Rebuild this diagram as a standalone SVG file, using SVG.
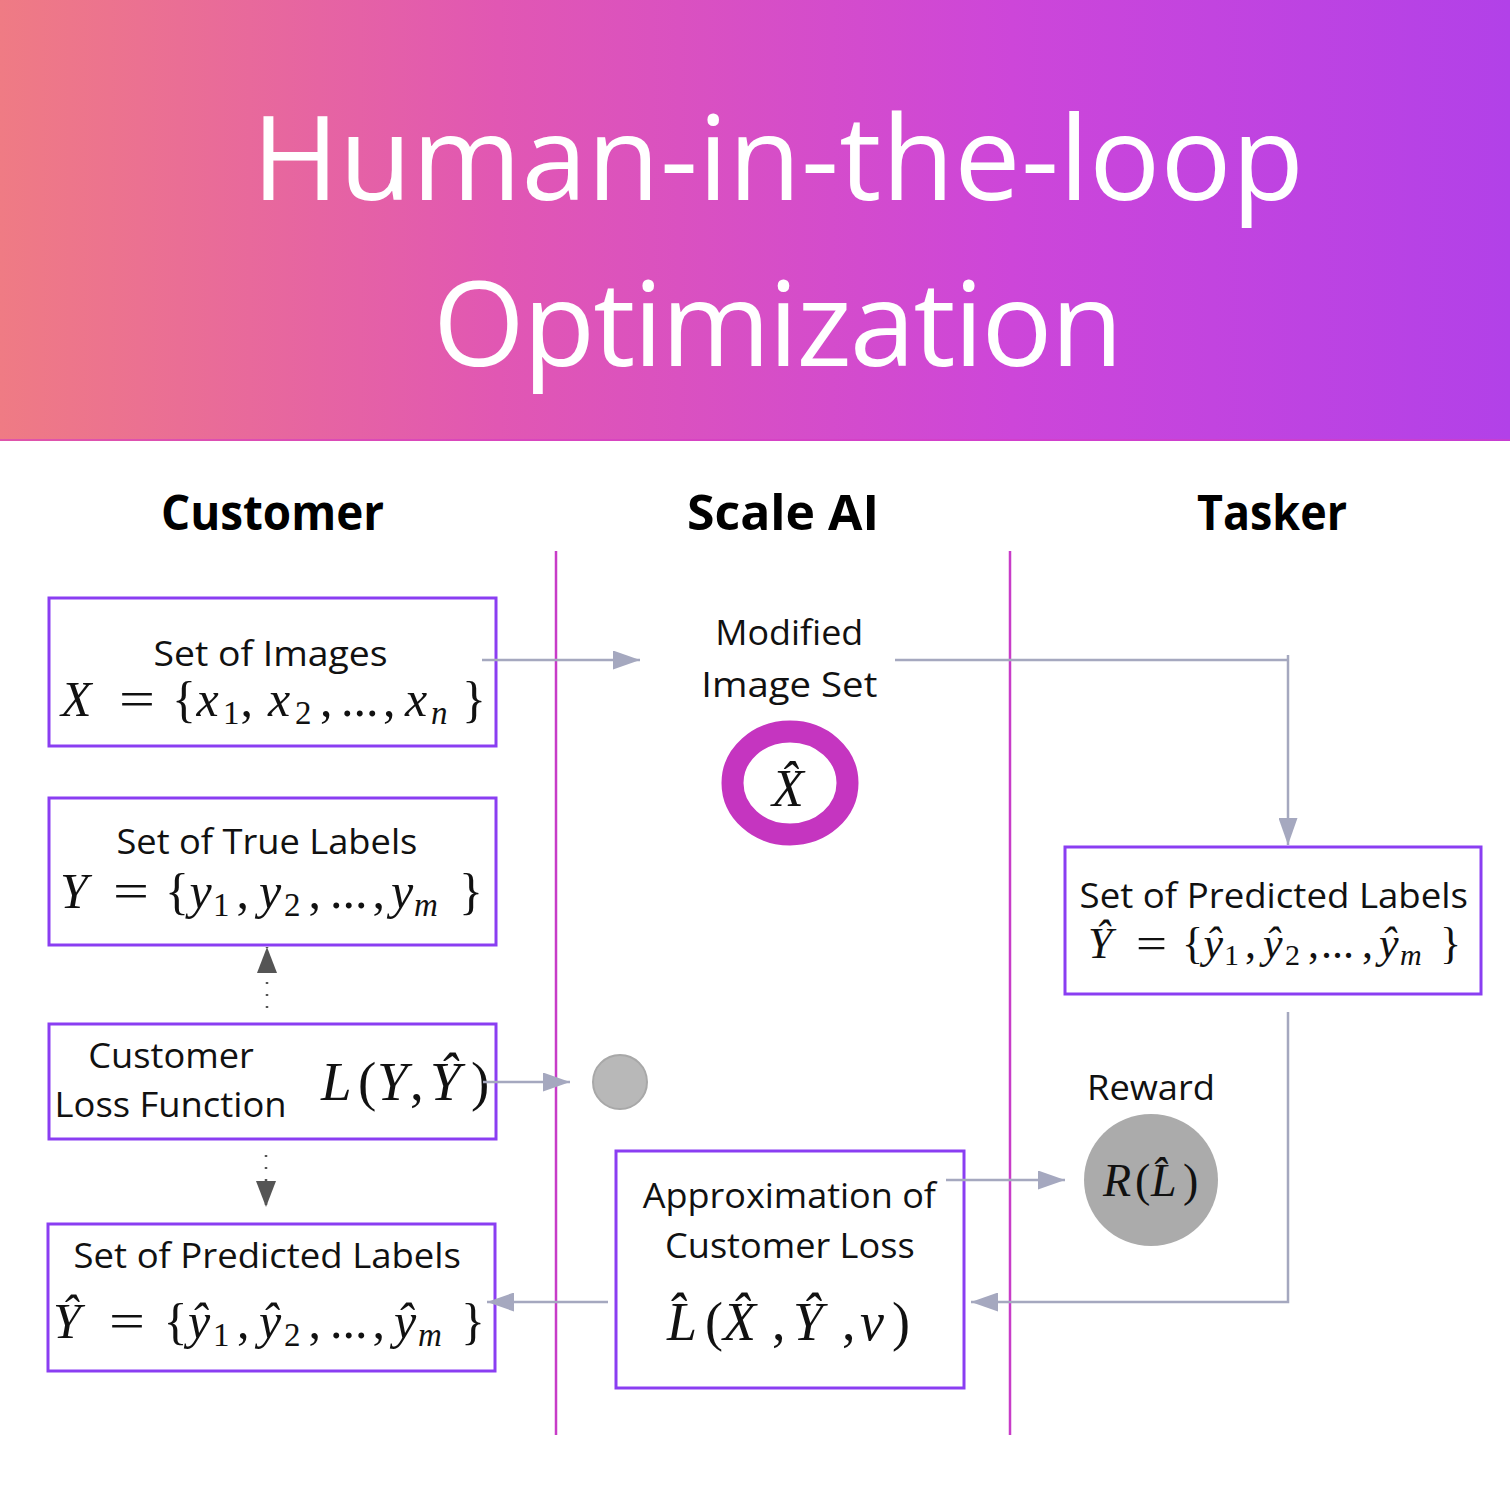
<svg xmlns="http://www.w3.org/2000/svg" width="1510" height="1510" viewBox="0 0 1510 1510">
<defs>
<linearGradient id="hdr" x1="0" y1="0" x2="1" y2="0">
<stop offset="0" stop-color="#EF7B84"/>
<stop offset="0.33" stop-color="#E157B3"/>
<stop offset="0.67" stop-color="#CD46D9"/>
<stop offset="1" stop-color="#B241E8"/>
</linearGradient>
<marker id="ag" viewBox="0 0 27 19" refX="27" refY="9.5" markerWidth="27" markerHeight="19" markerUnits="userSpaceOnUse" orient="auto"><path d="M0,0 L27,9.5 L0,19 Z" fill="#a5a8bf"/></marker>
<marker id="ad" viewBox="0 0 26 20" refX="26" refY="10" markerWidth="26" markerHeight="20" markerUnits="userSpaceOnUse" orient="auto"><path d="M0,0 L26,10 L0,20 Z" fill="#555555"/></marker>
</defs>
<style>
.t{font-family:"Open Sans","Noto Sans",sans-serif;font-size:35px;fill:#111}
.h{font-family:"Open Sans","Noto Sans",sans-serif;font-weight:700;font-size:49px;fill:#000}
.ttl{font-family:"Open Sans","Noto Sans",sans-serif;font-size:118px;fill:#fff}
.m{font-family:"Liberation Serif","Times New Roman",serif;fill:#111}
.i{font-style:italic}
.s{font-size:33px}
.s2{font-size:30px}
.box{fill:#fff;stroke:#8a3ef2;stroke-width:3}
.lane{stroke:#c83cc8;stroke-width:2.5}
.c{fill:none;stroke:#a5a8bf;stroke-width:2.5}
.d{fill:none;stroke:#555;stroke-width:2.5;stroke-dasharray:2 10}
</style>
<rect width="1510" height="1510" fill="#fff"/>
<g id="header">
<rect x="0" y="0" width="1510" height="441" fill="url(#hdr)"/>
<line x1="0" y1="440" x2="1510" y2="440" stroke="#d63cc4" stroke-width="2" opacity="0.6"/>
<text class="ttl" x="252" y="200" textLength="1052" lengthAdjust="spacing">Human-in-the-loop</text>
<text class="ttl" x="433" y="366" textLength="690" lengthAdjust="spacing">Optimization</text>
</g>
<g id="lanes">
<text class="h" x="161" y="530" textLength="223" lengthAdjust="spacingAndGlyphs">Customer</text>
<text class="h" x="687" y="530" textLength="192" lengthAdjust="spacingAndGlyphs">Scale AI</text>
<text class="h" x="1197" y="530" textLength="150" lengthAdjust="spacingAndGlyphs">Tasker</text>
<line class="lane" x1="556" y1="551" x2="556" y2="1435"/>
<line class="lane" x1="1010" y1="551" x2="1010" y2="1435"/>
</g>
<g id="set-of-images">
<rect class="box" x="49" y="598" width="447" height="148"/>
<text class="t" x="153.6" y="666" textLength="234" lengthAdjust="spacingAndGlyphs">Set of Images</text>
<text class="m" style="font-size:50px"><tspan x="61" y="716" class="i">X</tspan><tspan x="119" y="716" textLength="36" lengthAdjust="spacingAndGlyphs">=</tspan><tspan x="172" y="716">{</tspan><tspan x="196.5" y="716" class="i">x</tspan><tspan x="223" y="724" class="s">1</tspan><tspan x="240.5" y="716">,</tspan><tspan x="268" y="716" class="i">x</tspan><tspan x="295" y="724" class="s">2</tspan><tspan x="320" y="716">,</tspan><tspan x="341" y="716">...</tspan><tspan x="383" y="716">,</tspan><tspan x="405" y="716" class="i">x</tspan><tspan x="431" y="724" class="i s">n</tspan><tspan x="462" y="716">}</tspan></text>
</g>
<g id="set-of-true-labels">
<rect class="box" x="49" y="798" width="447" height="147"/>
<text class="t" x="116.4" y="854" textLength="301" lengthAdjust="spacingAndGlyphs">Set of True Labels</text>
<text class="m" style="font-size:50px"><tspan x="60" y="908" class="i">Y</tspan><tspan x="113" y="908" textLength="36" lengthAdjust="spacingAndGlyphs">=</tspan><tspan x="165" y="908">{</tspan><tspan x="189.5" y="908" class="i">y</tspan><tspan x="213" y="916" class="s">1</tspan><tspan x="236.5" y="908">,</tspan><tspan x="259" y="908" class="i">y</tspan><tspan x="284" y="916" class="s">2</tspan><tspan x="308.5" y="908">,</tspan><tspan x="330" y="908">...</tspan><tspan x="372.5" y="908">,</tspan><tspan x="391" y="908" class="i">y</tspan><tspan x="414" y="916" class="i s">m</tspan><tspan x="459" y="908">}</tspan></text>
</g>
<g id="customer-loss-function">
<rect class="box" x="49" y="1024" width="447" height="115"/>
<text class="t" x="88.3" y="1068" textLength="165.6" lengthAdjust="spacingAndGlyphs">Customer</text>
<text class="t" x="54.6" y="1117" textLength="232" lengthAdjust="spacingAndGlyphs">Loss Function</text>
<text class="m" style="font-size:55px"><tspan x="321" y="1100" class="i">L</tspan><tspan x="358" y="1100">(</tspan><tspan x="377" y="1100" class="i">Y</tspan><tspan x="410" y="1100">,</tspan><tspan x="430" y="1100" class="i">Ŷ</tspan><tspan x="471" y="1100">)</tspan></text>
</g>
<g id="customer-predicted-labels">
<rect class="box" x="48" y="1224" width="447" height="147"/>
<text class="t" x="73.6" y="1268" textLength="387.4" lengthAdjust="spacingAndGlyphs">Set of Predicted Labels</text>
<text class="m" style="font-size:50px"><tspan x="53" y="1338" class="i">Ŷ</tspan><tspan x="109" y="1338" textLength="36" lengthAdjust="spacingAndGlyphs">=</tspan><tspan x="163.5" y="1338">{</tspan><tspan x="188" y="1338" class="i">ŷ</tspan><tspan x="213" y="1346" class="s">1</tspan><tspan x="237" y="1338">,</tspan><tspan x="259" y="1338" class="i">ŷ</tspan><tspan x="284" y="1346" class="s">2</tspan><tspan x="308.5" y="1338">,</tspan><tspan x="330" y="1338">...</tspan><tspan x="372.5" y="1338">,</tspan><tspan x="394" y="1338" class="i">ŷ</tspan><tspan x="418" y="1346" class="i s">m</tspan><tspan x="461" y="1338">}</tspan></text>
</g>
<g id="merge-point">
<circle cx="620" cy="1082" r="27" fill="#b8b8b8" stroke="#a8a8a8" stroke-width="2"/>
</g>
<g id="modified-image-set">
<text class="t" x="715.3" y="645" textLength="148" lengthAdjust="spacingAndGlyphs">Modified</text>
<text class="t" x="701.3" y="697" textLength="176" lengthAdjust="spacingAndGlyphs">Image Set</text>
<ellipse cx="790" cy="783" rx="57.5" ry="51.5" fill="#fff" stroke="#c535c0" stroke-width="22"/>
<text class="m i" style="font-size:52px" x="772" y="806">X&#x302;</text>
</g>
<g id="approximation">
<rect class="box" x="616" y="1151" width="348" height="237"/>
<text class="t" x="642.7" y="1208" textLength="293.3" lengthAdjust="spacingAndGlyphs">Approximation of</text>
<text class="t" x="665" y="1258" textLength="249.6" lengthAdjust="spacingAndGlyphs">Customer Loss</text>
<text class="m" style="font-size:54px"><tspan x="667" y="1340" class="i">L&#x302;</tspan><tspan x="705" y="1340">(</tspan><tspan x="723" y="1340" class="i">X&#x302;</tspan><tspan x="772" y="1340">,</tspan><tspan x="793" y="1340" class="i">Ŷ</tspan><tspan x="842" y="1340">,</tspan><tspan x="860" y="1340" class="i">v</tspan><tspan x="892" y="1340">)</tspan></text>
</g>
<g id="tasker-predicted-labels">
<rect class="box" x="1065" y="847" width="416" height="147"/>
<text class="t" x="1079.6" y="908" textLength="388.4" lengthAdjust="spacingAndGlyphs">Set of Predicted Labels</text>
<text class="m" style="font-size:44px"><tspan x="1088" y="958" class="i">Ŷ</tspan><tspan x="1136" y="958" textLength="31" lengthAdjust="spacingAndGlyphs">=</tspan><tspan x="1182" y="958">{</tspan><tspan x="1203.5" y="958" class="i">ŷ</tspan><tspan x="1224" y="965" class="s2">1</tspan><tspan x="1245" y="958">,</tspan><tspan x="1263" y="958" class="i">ŷ</tspan><tspan x="1285" y="965" class="s2">2</tspan><tspan x="1308" y="958">,</tspan><tspan x="1321" y="958">...</tspan><tspan x="1362" y="958">,</tspan><tspan x="1379" y="958" class="i">ŷ</tspan><tspan x="1400" y="965" class="i s2">m</tspan><tspan x="1440" y="958">}</tspan></text>
</g>
<g id="reward">
<text class="t" x="1087" y="1100" textLength="128" lengthAdjust="spacingAndGlyphs">Reward</text>
<ellipse cx="1151" cy="1180" rx="67" ry="66" fill="#ababab"/>
<text class="m" style="font-size:46px"><tspan x="1103" y="1196" class="i">R</tspan><tspan x="1135" y="1196">(</tspan><tspan x="1151" y="1196" class="i">L&#x302;</tspan><tspan x="1183" y="1196">)</tspan></text>
</g>
<g id="connectors">
<line class="c" x1="482" y1="660" x2="640" y2="660" marker-end="url(#ag)"/>
<line class="c" x1="895" y1="660" x2="1288" y2="660"/>
<line class="c" x1="1288" y1="655" x2="1288" y2="845" marker-end="url(#ag)"/>
<line class="c" x1="483" y1="1082" x2="570" y2="1082" marker-end="url(#ag)"/>
<line class="c" x1="946" y1="1180" x2="1065" y2="1180" marker-end="url(#ag)"/>
<path class="c" d="M1288,1012 V1302 H971" marker-end="url(#ag)"/>
<line class="c" x1="608" y1="1302" x2="487" y2="1302" marker-end="url(#ag)"/>
<line class="d" x1="267" y1="1008" x2="267" y2="947" marker-end="url(#ad)"/>
<line class="d" x1="266" y1="1155" x2="266" y2="1207" marker-end="url(#ad)"/>
</g>
</svg>
